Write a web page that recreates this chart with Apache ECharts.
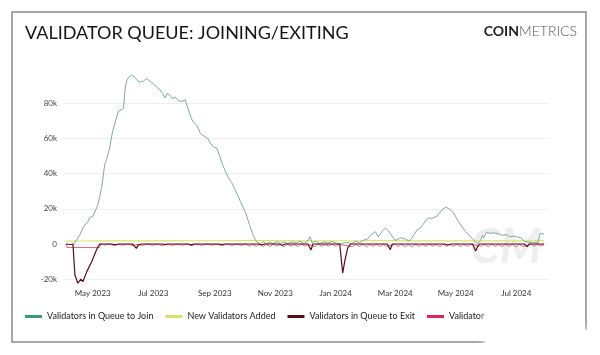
<!DOCTYPE html>
<html>
<head>
<meta charset="utf-8">
<script src="https://cdn.jsdelivr.net/npm/echarts@6/dist/echarts.min.js"></script>
<style>html,body{margin:0;padding:0;background:#fff}#c{width:600px;height:355px}</style>
</head>
<body>
<div id="c"></div>
<script>
const seriesNames = ['Validators in Queue to Join','New Validators Added','Validators in Queue to Exit','Validators Exited'];
const yTicks = [-20000, 0, 20000, 40000, 60000, 80000, 100000];
const monthNames = ['Jan','Feb','Mar','Apr','May','Jun','Jul','Aug','Sep','Oct','Nov','Dec'];

const queueJoin = [
['2023-04-12',0],['2023-04-14',500],['2023-04-18',5200],['2023-04-21',9000],['2023-04-23',10800],['2023-04-26',12500],
['2023-04-28',15200],['2023-05-01',15500],['2023-05-03',15600],['2023-05-06',22000],['2023-05-08',27000],['2023-05-10',32000],
['2023-05-13',45000],['2023-05-15',48000],['2023-05-18',54500],['2023-05-21',64000],['2023-05-24',70000],['2023-05-27',75500],
['2023-05-29',76500],['2023-06-01',77000],['2023-06-02',84000],['2023-06-03',90000],['2023-06-05',94000],['2023-06-07',93000],
['2023-06-09',96000],['2023-06-12',95000],['2023-06-14',93500],['2023-06-17',92000],['2023-06-19',91000],['2023-06-21',92500],
['2023-06-24',94000],['2023-06-26',93000],['2023-06-29',92000],['2023-07-01',91000],['2023-07-04',89500],['2023-07-08',87500],
['2023-07-11',85000],['2023-07-13',83000],['2023-07-15',85500],['2023-07-18',84500],['2023-07-20',82500],['2023-07-23',83500],
['2023-07-26',81500],['2023-07-30',81000],['2023-08-02',82000],['2023-08-05',77000],['2023-08-08',72000],['2023-08-10',69500],
['2023-08-12',69000],['2023-08-14',67500],['2023-08-17',63500],['2023-08-19',62000],['2023-08-22',61000],['2023-08-25',60000],
['2023-08-28',57000],['2023-08-31',55000],['2023-09-03',54500],['2023-09-06',50000],['2023-09-09',45000],['2023-09-12',41000],
['2023-09-15',37500],['2023-09-18',35000],['2023-09-21',31500],['2023-09-23',29000],['2023-09-27',24000],['2023-10-02',18000],
['2023-10-06',11000],['2023-10-09',6000],['2023-10-12',2300],['2023-10-14',800],['2023-10-17',300],['2023-10-20',1200],
['2023-10-23',200],['2023-10-27',900],['2023-10-30',100],['2023-11-03',1500],['2023-11-06',400],['2023-11-10',1100],
['2023-11-14',200],['2023-11-18',1300],['2023-11-22',500],['2023-11-26',1600],['2023-11-30',300],['2023-12-03',1200],
['2023-12-06',4200],['2023-12-08',800],['2023-12-12',1500],['2023-12-16',300],['2023-12-20',1200],['2023-12-24',600],
['2023-12-28',1400],['2024-01-02',400],['2024-01-06',200],['2024-01-12',900],['2024-01-17',300],['2024-01-21',1500],
['2024-01-25',800],['2024-01-29',2200],['2024-02-02',2800],['2024-02-05',5000],['2024-02-07',4200],['2024-02-10',7000],
['2024-02-13',4000],['2024-02-17',7500],['2024-02-20',9000],['2024-02-23',7500],['2024-02-25',6000],['2024-02-28',3500],
['2024-03-01',2000],['2024-03-06',3400],['2024-03-10',3200],['2024-03-13',2200],['2024-03-16',2000],['2024-03-19',4500],
['2024-03-23',8000],['2024-03-26',9000],['2024-03-29',11000],['2024-04-01',13600],['2024-04-04',14800],['2024-04-07',14500],
['2024-04-09',15500],['2024-04-12',15800],['2024-04-14',16500],['2024-04-17',19300],['2024-04-21',21000],['2024-04-23',20200],
['2024-04-26',19300],['2024-04-29',17500],['2024-05-01',15500],['2024-05-04',12500],['2024-05-06',10800],['2024-05-09',8500],
['2024-05-11',7000],['2024-05-14',5200],['2024-05-16',4000],['2024-05-19',2300],['2024-05-21',1300],['2024-05-23',0],
['2024-05-26',2000],['2024-05-28',5000],['2024-05-29',3400],['2024-06-01',6500],['2024-06-02',7000],['2024-06-05',6000],
['2024-06-08',6400],['2024-06-12',6000],['2024-06-15',5300],['2024-06-18',5000],['2024-06-21',5400],['2024-06-25',4000],
['2024-06-28',4500],['2024-07-02',4000],['2024-07-06',3400],['2024-07-09',1500],['2024-07-11',500],['2024-07-15',900],
['2024-07-19',600],['2024-07-23',1000],['2024-07-25',6000],['2024-07-27',5600],['2024-07-29',5600]
];

const newAdded = [
['2023-04-04',1600],['2023-04-20',1700],['2023-05-10',1800],['2023-07-01',1800],['2023-09-01',1850],['2023-10-15',1900],
['2023-12-01',1750],['2024-01-15',1850],['2024-03-01',1950],['2024-03-15',1800],['2024-05-01',1800],['2024-07-29',1800]
];

const queueExit = [
['2023-04-04',0],['2023-04-08',-300],['2023-04-11',0],['2023-04-13',-17600],['2023-04-16',-22300],['2023-04-19',-20000],
['2023-04-21',-21400],['2023-04-25',-15700],['2023-04-30',-10000],['2023-05-05',-3000],['2023-05-08',0],['2023-05-20',0],
['2023-05-24',-500],['2023-05-27',0],['2023-06-10',0],['2023-06-12',-800],['2023-06-14',-2500],['2023-06-16',-500],
['2023-06-19',0],['2023-07-10',0],['2023-07-13',-400],['2023-07-16',0],['2023-08-05',0],['2023-08-08',-500],['2023-08-11',0],
['2023-09-05',0],['2023-09-08',-400],['2023-09-11',0],['2023-10-15',0],['2023-10-18',-600],['2023-10-21',0],['2023-11-05',0],
['2023-11-08',-700],['2023-11-11',0],['2023-12-04',0],['2023-12-07',-3400],['2023-12-09',0],['2024-01-05',0],
['2024-01-08',-16500],['2024-01-10',-10000],['2024-01-13',-2300],['2024-01-16',0],['2024-02-22',0],['2024-02-25',-3200],
['2024-02-27',0],['2024-04-20',0],['2024-04-23',-600],['2024-04-26',0],['2024-05-18',0],['2024-05-21',-4000],
['2024-05-23',-1500],['2024-05-25',0],['2024-07-09',0],['2024-07-12',-1500],['2024-07-14',0],['2024-07-29',0]
];

const exited = [
['2023-04-04',0],['2023-04-05',-2000],['2023-05-08',-2000],['2023-05-09',0],['2023-05-13',-600],['2023-05-17',0],
['2023-05-22',-800],['2023-05-26',-100],['2023-05-31',-700],['2023-06-05',0],['2023-06-10',-900],['2023-06-15',-200],
['2023-06-20',-800],['2023-06-25',0],['2023-06-30',-700],['2023-07-05',-100],['2023-07-10',-900],['2023-07-15',0],
['2023-07-20',-800],['2023-07-25',-200],['2023-07-30',-700],['2023-08-04',0],['2023-08-09',-900],['2023-08-14',-100],
['2023-08-19',-800],['2023-08-24',0],['2023-08-29',-700],['2023-09-03',-100],['2023-09-08',-900],['2023-09-13',0],
['2023-09-18',-800],['2023-09-23',-100],['2023-09-28',-900],['2023-10-02',0],['2023-10-06',-1200],['2023-10-09',-200],
['2023-10-13',-1400],['2023-10-16',-100],['2023-10-20',-1300],['2023-10-23',-300],['2023-10-27',-1500],['2023-10-30',0],
['2023-11-03',-1200],['2023-11-06',-200],['2023-11-10',-1600],['2023-11-13',-100],['2023-11-17',-1300],['2023-11-20',-300],
['2023-11-24',-1400],['2023-11-27',0],['2023-12-01',-1200],['2023-12-04',-200],['2023-12-11',-1500],['2023-12-14',-100],
['2023-12-18',-1300],['2023-12-21',-300],['2023-12-25',-1200],['2023-12-28',0],['2024-01-01',-1300],['2024-01-04',-200],
['2024-01-18',-1500],['2024-01-21',-200],['2024-01-25',-1400],['2024-01-28',-100],['2024-02-01',-1600],['2024-02-04',-200],
['2024-02-08',-1300],['2024-02-11',0],['2024-02-15',-1500],['2024-02-18',-200],['2024-02-21',-1400],['2024-03-01',-200],
['2024-03-04',-1600],['2024-03-07',-100],['2024-03-11',-1500],['2024-03-14',-300],['2024-03-18',-1700],['2024-03-21',-100],
['2024-03-25',-1400],['2024-03-28',-200],['2024-04-01',-1300],['2024-04-04',0],['2024-04-08',-1200],['2024-04-11',-200],
['2024-04-15',-1500],['2024-04-18',-100],['2024-04-22',-1300],['2024-04-25',-300],['2024-04-29',-1400],['2024-05-02',0],
['2024-05-06',-1500],['2024-05-09',-200],['2024-05-13',-1400],['2024-05-16',-100],['2024-05-27',-1300],['2024-05-30',-200],
['2024-06-03',-1600],['2024-06-06',-100],['2024-06-10',-1400],['2024-06-13',-300],['2024-06-17',-1500],['2024-06-20',-100],
['2024-06-24',-1300],['2024-06-27',-200],['2024-07-01',-1600],['2024-07-04',-100],['2024-07-08',-1400],['2024-07-16',-200],
['2024-07-19',-1300],['2024-07-22',-100],['2024-07-26',-1200],['2024-07-29',-300]
];

const colors = ['#3d9a6f','#d6e36a','#5a0c16','#e3225a'];

const chart = echarts.init(document.getElementById('c'), null, {renderer:'canvas'});
const FONT = 'Lato, "Open Sans", sans-serif';

chart.setOption({
  animation: false,
  textStyle: {fontFamily: FONT},
  title: [
    {text: 'VALIDATOR QUEUE: JOINING/EXITING', left: 20, top: 19,
     textStyle: {fontFamily: FONT, fontSize: 18, fontWeight: 'normal', color: '#151515'}},
    {text: '{a|COIN}{b|METRICS}', right: 18, top: 19,
     textStyle: {rich: {
       a: {fontFamily: FONT, fontSize: 14, fontWeight: 'bold', color: '#222'},
       b: {fontFamily: FONT, fontSize: 14, fontWeight: 300, color: '#555'}
     }}}
  ],
  graphic: [
    {type: 'rect', z: 100, silent: true, shape: {x: 12, y: 12, width: 574, height: 330},
     style: {fill: 'none', stroke: '#8a8a8a', lineWidth: 1.5}},
    {type: 'text', z: 0, left: 470, top: 224, silent: true,
     style: {text: 'CM', fontFamily: FONT, fontSize: 48, fontWeight: 'bold', fontStyle: 'italic', fill: 'rgba(205,205,205,0.35)'}},
    {type: 'rect', z: 101, silent: true, shape: {x: 485, y: 306, width: 70, height: 22},
     style: {fill: '#fff', shadowColor: '#fff', shadowBlur: 8}},
    {type: 'rect', z: 101, silent: true, shape: {x: 485, y: 330, width: 120, height: 30},
     style: {fill: '#fff', shadowColor: '#fff', shadowBlur: 8}}
  ],
  legend: {
    left: 20, top: 307, itemWidth: 17, itemHeight: 3, itemGap: 12, icon: 'rect',
    textStyle: {fontFamily: FONT, fontSize: 9, color: '#222'},
    data: seriesNames
  },
  grid: {left: 63, right: 52, top: 68, bottom: 75.8},
  xAxis: {
    type: 'time',
    min: new Date(2023, 3, 1).getTime(),
    max: new Date(2024, 7, 2).getTime(),
    splitNumber: 7,
    minInterval: 59 * 86400000,
    maxInterval: 62 * 86400000,
    axisLine: {show: false, onZero: false},
    axisTick: {show: false},
    splitLine: {show: false},
    axisLabel: {
      color: '#333', fontSize: 8, fontFamily: FONT, margin: 10,
      formatter: function (v) {
        const d = new Date(v);
        if (d.getDate() !== 1) return '';
        return monthNames[d.getMonth()] + ' ' + d.getFullYear();
      }
    }
  },
  yAxis: {
    type: 'value', min: yTicks[0], max: yTicks[yTicks.length - 1], interval: 20000,
    axisLine: {show: false}, axisTick: {show: false},
    splitLine: {lineStyle: {color: ['#efefef','#efefef','#efefef','#efefef','#efefef','#efefef','rgba(0,0,0,0)'], width: 1}},
    axisLabel: {
      color: '#444', fontSize: 8, fontFamily: FONT, margin: 6,
      formatter: function (v) {
        if (v === 100000) return '';
        if (v === 0) return '0';
        return (v / 1000) + 'k';
      }
    }
  },
  series: [
    {name: seriesNames[1], type: 'line', data: newAdded, showSymbol: false, clip: false, z: 2,
     lineStyle: {color: colors[1], width: 1.2}, itemStyle: {color: colors[1]}},
    {name: seriesNames[3], type: 'line', data: exited, showSymbol: false, clip: false, z: 3,
     lineStyle: {color: colors[3], width: 1, opacity: 0.7}, itemStyle: {color: colors[3]}},
    {name: seriesNames[0], type: 'line', data: queueJoin, showSymbol: false, clip: false, z: 4,
     lineStyle: {color: '#7fa99a', width: 1}, itemStyle: {color: colors[0]}},
    {name: seriesNames[2], type: 'line', data: queueExit, showSymbol: false, clip: false, z: 5,
     lineStyle: {color: colors[2], width: 1.2}, itemStyle: {color: colors[2]}}
  ]
});
</script>
</body>
</html>
